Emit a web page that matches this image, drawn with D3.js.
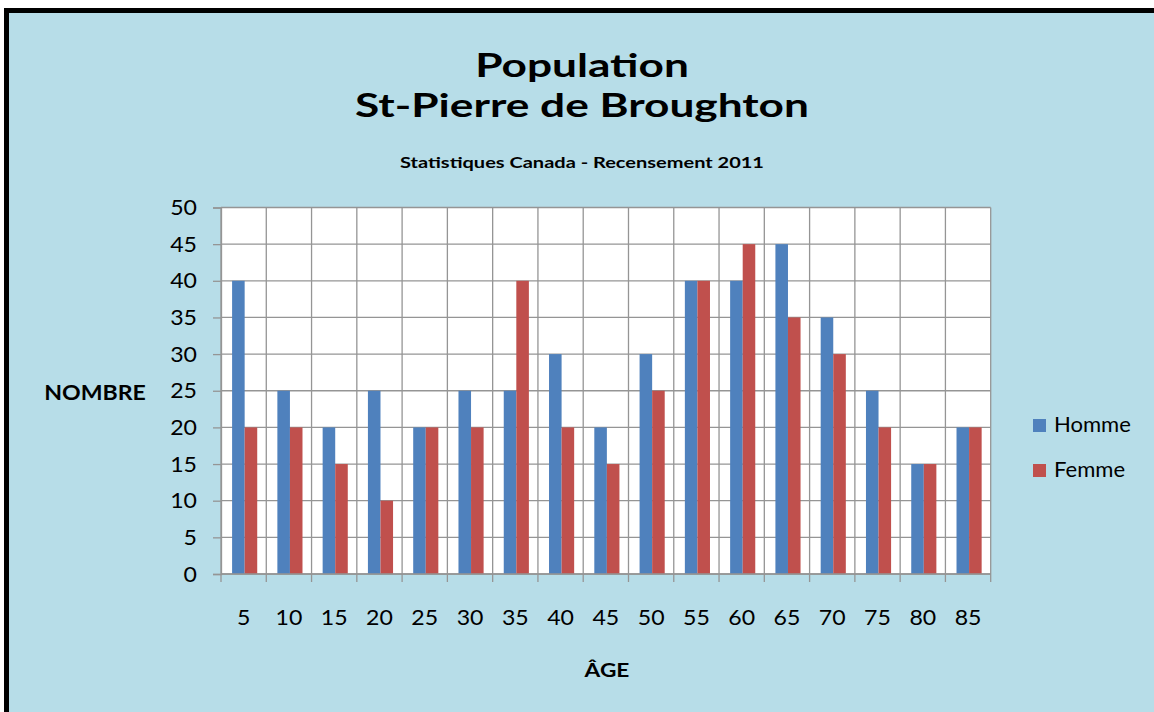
<!DOCTYPE html>
<html>
<head>
<meta charset="utf-8">
<script src="https://cdnjs.cloudflare.com/ajax/libs/d3/7.8.5/d3.min.js"></script>
<style>
  body { margin: 0; background: #fff; }
  svg { display: block; font-family: Lato, "Open Sans", sans-serif; }
</style>
</head>
<body>
<svg id="chart"></svg>
<script>
// chart data
const ages = ["5", "10", "15", "20", "25", "30", "35", "40", "45", "50", "55", "60", "65", "70", "75", "80", "85"];
const homme = [40, 25, 20, 25, 20, 25, 25, 30, 20, 30, 40, 40, 45, 35, 25, 15, 20];
const femme = [20, 20, 15, 10, 20, 20, 40, 20, 15, 25, 40, 45, 35, 30, 20, 15, 20];
const seriesNames = ["Homme", "Femme"];
const seriesColors = ["#4f81bd", "#c0504d"];
const yTicks = [0, 5, 10, 15, 20, 25, 30, 35, 40, 45, 50];

const W = 1154, H = 712;
const plot = { left: 221, right: 990.7, top: 207.5, bottom: 574 };
const gridColor = "#959595";

const svg = d3.select("#chart").attr("width", W).attr("height", H);

// the reference text looks stretched sideways, so text gets a horizontal scale
function label(parent, x, y, txt, opts) {
    return parent.append("text")
        .attr("transform", `translate(${x},${y}) scale(${opts.sx || 1},1)`)
        .attr("text-anchor", opts.anchor || "middle")
        .attr("font-weight", opts.bold ? "bold" : "normal")
        .attr("font-size", opts.size)
        .attr("fill", "#000")
        .text(txt);
}

// background panel with thick black edge on top and left
svg.append("rect").attr("x", 4).attr("y", 8).attr("width", W - 4).attr("height", H - 8).attr("fill", "#000");
svg.append("rect").attr("x", 9).attr("y", 13).attr("width", W - 9).attr("height", H - 13).attr("fill", "#b7dde8");

// titles
label(svg, 582, 76.5, "Population", { size: 33, bold: true, sx: 1.34 });
label(svg, 582, 116.5, "St-Pierre de Broughton", { size: 33, bold: true, sx: 1.34 });
label(svg, 582, 167.5, "Statistiques Canada - Recensement 2011", { size: 16, bold: true, sx: 1.25 });

// scales
const x0 = d3.scaleBand().domain(ages).range([plot.left, plot.right]).padding(0);
const bw = x0.bandwidth();
const x1 = d3.scaleBand().domain(seriesNames).range([bw * 0.245, bw * 0.8]).padding(0);
const y = d3.scaleLinear().domain([0, 50]).range([plot.bottom, plot.top]);

// plot area
svg.append("rect").attr("x", plot.left).attr("y", plot.top)
    .attr("width", plot.right - plot.left).attr("height", plot.bottom - plot.top).attr("fill", "#fff");

// horizontal grid
svg.append("g").selectAll("line").data(yTicks).join("line")
    .attr("x1", plot.left).attr("x2", plot.right)
    .attr("y1", d => y(d)).attr("y2", d => y(d))
    .attr("stroke", gridColor).attr("stroke-width", 1.3);

// vertical grid at category boundaries
const bounds = ages.map(a => x0(a)).concat([plot.right]);
svg.append("g").selectAll("line").data(bounds).join("line")
    .attr("x1", d => d).attr("x2", d => d)
    .attr("y1", plot.top).attr("y2", plot.bottom)
    .attr("stroke", gridColor).attr("stroke-width", 1.3);

// bars
const rows = ages.map((a, i) => ({ age: a, values: [homme[i], femme[i]] }));
svg.append("g").selectAll("g").data(rows).join("g")
    .attr("transform", d => `translate(${x0(d.age)},0)`)
  .selectAll("rect").data(d => d.values.map((v, j) => ({ name: seriesNames[j], v, j }))).join("rect")
    .attr("x", d => x1(d.name)).attr("width", x1.bandwidth())
    .attr("y", d => y(d.v)).attr("height", d => y(0) - y(d.v))
    .attr("fill", d => seriesColors[d.j]);

// y axis
const yAxis = d3.axisLeft(y).tickValues(yTicks).tickSize(8).tickPadding(0).tickFormat("");
const yG = svg.append("g").attr("transform", `translate(${plot.left},0)`).call(yAxis);
yG.select(".domain").attr("stroke", gridColor).attr("stroke-width", 1.3);
yG.selectAll(".tick line").attr("stroke", gridColor).attr("stroke-width", 1.3);
yTicks.forEach(t => {
    label(svg, plot.left - 24, y(t) + 7.5, String(t), { size: 21, sx: 1.1, anchor: "end" });
});

// x axis: ticks at boundaries, labels centered in bands
svg.append("g").selectAll("line").data(bounds).join("line")
    .attr("x1", d => d).attr("x2", d => d)
    .attr("y1", plot.bottom).attr("y2", plot.bottom + 8)
    .attr("stroke", gridColor).attr("stroke-width", 1.3);
svg.append("line").attr("x1", plot.left).attr("x2", plot.right)
    .attr("y1", plot.bottom).attr("y2", plot.bottom)
    .attr("stroke", gridColor).attr("stroke-width", 1.3);
ages.forEach(a => {
    label(svg, x0(a) + bw / 2, 625, a, { size: 21, sx: 1.1 });
});

// axis titles
label(svg, 95, 400, "NOMBRE", { size: 21, bold: true, sx: 1.1 });
label(svg, 607, 677, "ÂGE", { size: 18, bold: true, sx: 1.26 });

// legend
const legend = svg.append("g").selectAll("g").data(seriesNames).join("g")
    .attr("transform", (d, i) => `translate(1033,${419 + i * 45})`);
legend.append("rect").attr("width", 13).attr("height", 13).attr("fill", (d, i) => seriesColors[i]);
legend.each(function (d) {
    label(d3.select(this), 21, 13, d, { size: 21, sx: 1.05, anchor: "start" });
});
</script>
</body>
</html>
